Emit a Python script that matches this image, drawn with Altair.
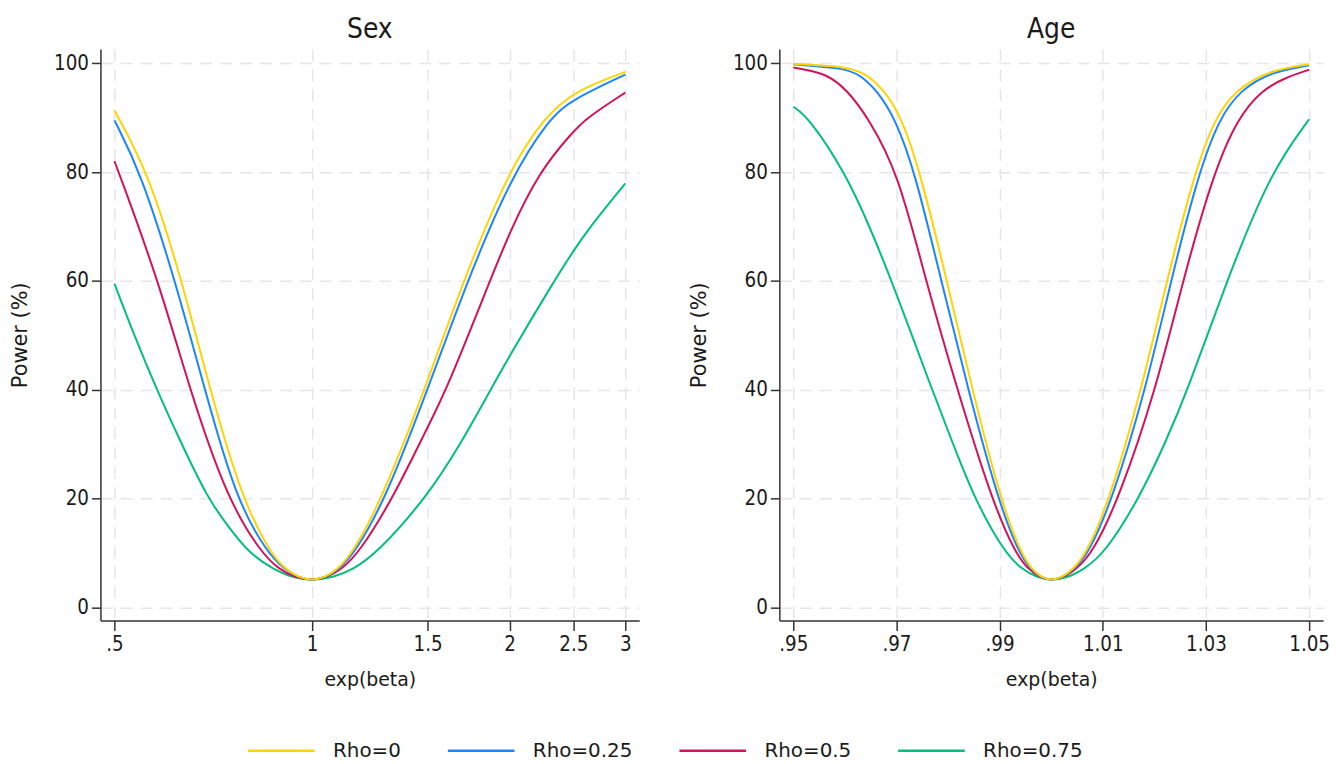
import altair as alt
import pandas as pd

# ---- data ----
RHOS = ["Rho=0", "Rho=0.25", "Rho=0.5", "Rho=0.75"]
COLORS = ["#FFD400", "#1A85FF", "#D41159", "#00BF7F"]

# Sex panel (x = exp(beta), y = power %)
sex_r0_x = [0.5, 0.5627, 0.6339, 0.6988, 0.782, 0.8636, 0.9111, 0.9542, 1.0, 1.0455, 1.0936, 1.1523, 1.2795, 1.5, 1.6991, 2.0, 2.26, 2.5, 3.0]
sex_r0_y = [91.3, 80, 60, 40, 20, 10, 7, 5.5, 5, 5.5, 7, 10, 20, 41.5, 60, 80.7, 90, 94.8, 98.4]
sex_r25_x = [0.5, 0.5481, 0.6190, 0.6865, 0.765, 0.855, 0.9083, 0.9536, 1.0, 1.048, 1.0989, 1.1608, 1.2952, 1.5, 1.724, 2.0, 2.30, 2.5, 3.0]
sex_r25_y = [89.5, 80, 60, 40, 20, 10, 7, 5.5, 5, 5.5, 7, 10, 20, 40.1, 60, 78.6, 90, 93.4, 97.9]
sex_r50_x = [0.5, 0.5074, 0.5836, 0.6511, 0.742, 0.837, 0.8913, 0.9438, 1.0, 1.0531, 1.1083, 1.1779, 1.3271, 1.5, 1.6026, 1.866, 2.0, 2.2154, 2.5, 2.6239, 3.0]
sex_r50_y = [82.0, 80, 60, 40, 20, 10, 7, 5.5, 5, 5.5, 7, 10, 20, 33.2, 40, 60, 69.0, 80, 87.5, 90, 94.6]
sex_r75_x = [0.5, 0.5359, 0.5801, 0.633, 0.694, 0.744, 0.801, 0.874, 0.934, 1.0, 1.0751, 1.1551, 1.2563, 1.5, 1.6826, 1.8706, 2.0, 2.3372, 2.5, 2.6528, 3.0]
sex_r75_y = [59.5, 50, 40, 30, 20, 15, 10, 7, 5.5, 5, 5.5, 7, 10, 20.5, 30, 40, 46.3, 60, 65.5, 70, 77.9]

# Age panel
age_r0_x = [0.95, 0.96, 0.9638, 0.9677, 0.9710, 0.9746, 0.9798, 0.9847, 0.9901, 0.9941, 0.9963, 0.9981, 1.0,
            1.0021, 1.0042, 1.0069, 1.0114, 1.0175, 1.0224, 1.0278, 1.0318, 1.0356, 1.0425, 1.05]
age_r0_y = [99.9, 99.4, 98.3, 95, 90, 80, 60, 40, 20, 10, 7, 5.5, 5, 5.5, 7, 10, 20, 40, 60, 80, 90, 95, 98.8, 99.8]
age_r25_x = [0.95, 0.96, 0.9630, 0.9662, 0.9697, 0.9736, 0.9787, 0.9839, 0.9896, 0.9937, 0.9961, 0.9980, 1.0,
             1.0022, 1.0044, 1.0073, 1.0119, 1.0183, 1.0232, 1.0286, 1.0327, 1.0366, 1.0425, 1.05]
age_r25_y = [99.8, 99.1, 97.8, 95, 90, 80, 60, 40, 20, 10, 7, 5.5, 5, 5.5, 7, 10, 20, 40, 60, 80, 90, 95, 98.4, 99.6]
age_r50_x = [0.95, 0.9564, 0.9605, 0.9645, 0.9703, 0.9757, 0.9818, 0.9884, 0.9930, 0.9956, 0.9978, 1.0,
             1.0024, 1.0048, 1.0080, 1.0131, 1.0203, 1.0255, 1.0315, 1.0362, 1.0408, 1.045, 1.05]
age_r50_y = [99.2, 98.2, 95, 90, 80, 60, 40, 20, 10, 7, 5.5, 5, 5.5, 7, 10, 20, 40, 60, 80, 90, 95, 97.2, 98.8]
age_r75_x = [0.95, 0.9530, 0.9600, 0.9648, 0.9691, 0.9769, 0.9810, 0.9851, 0.9910, 0.9944, 0.9972, 1.0,
             1.0032, 1.0063, 1.0104, 1.0170, 1.0220, 1.0265, 1.0340, 1.0425, 1.05]
age_r75_y = [92.0, 90, 80, 70, 60, 40, 30, 20, 10, 7, 5.5, 5, 5.5, 7, 10, 20, 30, 40, 60, 80, 89.7]

sex_series = [(sex_r0_x, sex_r0_y), (sex_r25_x, sex_r25_y), (sex_r50_x, sex_r50_y), (sex_r75_x, sex_r75_y)]
age_series = [(age_r0_x, age_r0_y), (age_r25_x, age_r25_y), (age_r50_x, age_r50_y), (age_r75_x, age_r75_y)]

sex_ticks = [0.5, 1, 1.5, 2, 2.5, 3]
age_ticks = [0.95, 0.97, 0.99, 1.01, 1.03, 1.05]
y_ticks = [0, 20, 40, 60, 80, 100]


def frame(series):
    rows = []
    for rho, (xs, ys) in zip(RHOS, series):
        for x, y in zip(xs, ys):
            rows.append({"rho": rho, "x": x, "y": y})
    return pd.DataFrame(rows)


TICK_FONT = "DejaVu Sans Condensed, DejaVu Sans"
TITLE_FONT = "DejaVu Sans"
label_expr = "datum.value < 1 ? substring(format(datum.value, '~g'), 1) : format(datum.value, '~g')"


def panel(series, title, xscale, xticks, width):
    df = frame(series)
    xax = alt.Axis(values=xticks, labelExpr=label_expr, title="exp(beta)", tickSize=10, labelPadding=4)
    yax = alt.Axis(values=y_ticks, title="Power (%)")
    layers = []
    for rho in reversed(RHOS):
        layers.append(
            alt.Chart(df[df.rho == rho])
            .mark_line(strokeWidth=2, interpolate="basis")
            .encode(
                x=alt.X("x:Q", scale=xscale, axis=xax),
                y=alt.Y("y:Q", scale=alt.Scale(domain=[-2.4, 102.6], nice=False, zero=False), axis=yax),
                color=alt.Color(
                    "rho:N",
                    scale=alt.Scale(domain=RHOS, range=COLORS),
                    legend=alt.Legend(
                        title=None,
                        orient="none",
                        direction="horizontal",
                        legendX=147,
                        legendY=671,
                        symbolType="stroke",
                        symbolSize=4489,
                        symbolStrokeWidth=2.5,
                        labelOffset=17,
                        columnPadding=41,
                        labelFontSize=20,
                        labelFont=TITLE_FONT,
                        labelColor="#1a1a1a",
                    ),
                ),
            )
        )
    return alt.layer(*layers).properties(
        width=width,
        height=575,
        title=alt.TitleParams(title, fontSize=28, font=TICK_FONT, fontWeight="normal", color="#1a1a1a", offset=5),
    )


left = panel(sex_series, "Sex", alt.Scale(type="log", domain=[0.476, 3.15], nice=False), sex_ticks, 542)
right = panel(age_series, "Age", alt.Scale(domain=[0.9473, 1.0527], nice=False, zero=False), age_ticks, 547)

chart = (
    alt.hconcat(left, right, spacing=49)
    .properties(padding={"left": 1, "top": 6, "right": 5, "bottom": 5})
    .configure_view(stroke=None)
    .configure_axis(
        grid=True,
        gridDash=[12, 8],
        gridColor="#e6e6e6",
        gridWidth=1.5,
        domainColor="#333333",
        domainWidth=1.5,
        tickColor="#333333",
        tickWidth=1.5,
        tickSize=9,
        labelFont=TICK_FONT,
        labelFontSize=20.5,
        labelColor="#1a1a1a",
        labelPadding=3,
        titleFont=TITLE_FONT,
        titleFontSize=19,
        titleFontWeight="normal",
        titleColor="#1a1a1a",
        titlePadding=16,
    )
    .configure_axisY(titlePadding=23, titleFontSize=21)
)

chart.save("out.html", embed_options={"renderer": "svg", "actions": False})
